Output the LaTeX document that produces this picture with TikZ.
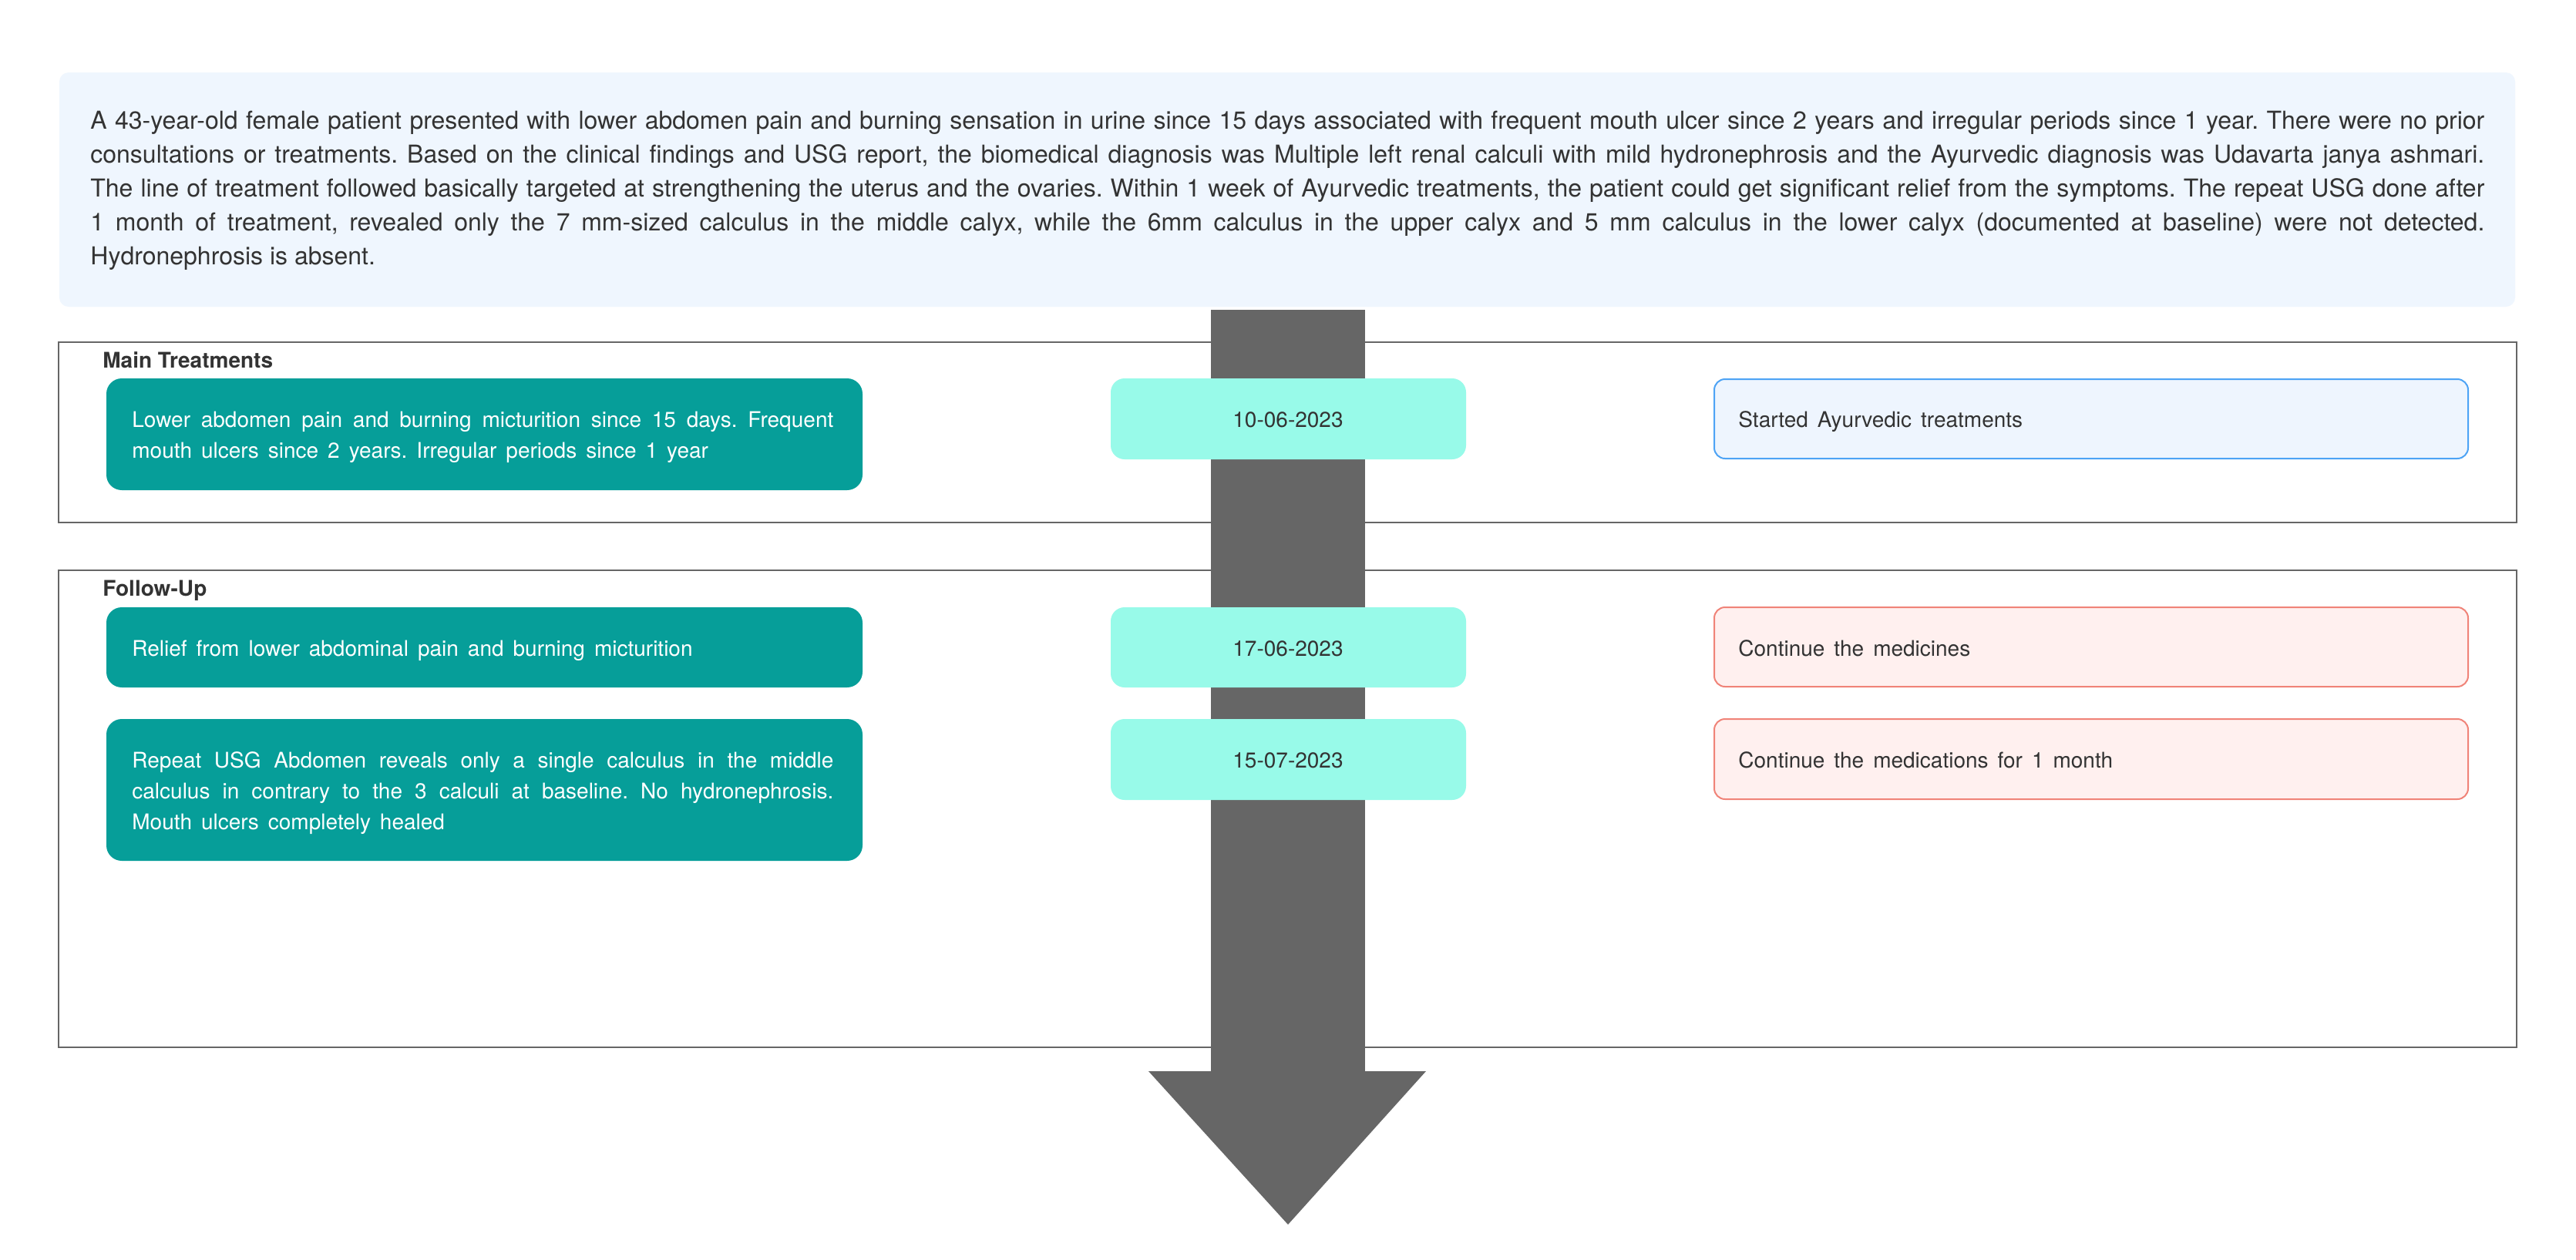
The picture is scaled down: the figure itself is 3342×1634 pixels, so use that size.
\documentclass[tikz,border=0pt]{standalone}
\usepackage{fontspec}
\setmainfont{TeX Gyre Heros}
\definecolor{parafill}{HTML}{EFF6FE}
\definecolor{txt}{HTML}{333333}
\definecolor{teal}{HTML}{069E99}
\definecolor{datefill}{HTML}{98FAE9}
\definecolor{shaftgray}{HTML}{666666}
\definecolor{blueline}{HTML}{4DA3F5}
\definecolor{bluefill}{HTML}{EEF5FE}
\definecolor{redline}{HTML}{F08378}
\definecolor{redfill}{HTML}{FFF0EF}
\tikzset{
  paratext/.style={inner sep=0pt, anchor=base west, text=txt, font=\fontsize{16}{22}\selectfont},
  smalltext/.style={inner sep=0pt, anchor=base west, font=\fontsize{14}{20}\selectfont},
  titletext/.style={inner sep=0pt, anchor=base west, text=txt, font=\bfseries\fontsize{14}{16}\selectfont},
  datetext/.style={inner sep=0pt, anchor=base, text=txt, font=\fontsize{14}{20}\selectfont},
  framebox/.style={draw=shaftgray, line width=1.2pt},
  tealbox/.style={fill=teal, rounded corners=10pt},
  datebox/.style={fill=datefill, rounded corners=9pt},
  bluebox/.style={draw=blueline, fill=bluefill, line width=1pt, rounded corners=7pt},
  redbox/.style={draw=redline, fill=redfill, line width=1pt, rounded corners=7pt},
}
\newcommand{\wsp}{\spaceskip=6pt plus 2pt minus 1pt\relax}
\frenchspacing
\begin{document}
\begin{tikzpicture}[x=0.5pt,y=-0.5pt]
\useasboundingbox[fill=white] (0,0) rectangle (3342,1634);
% summary paragraph
\path[fill=parafill, rounded corners=6pt] (77,94) rectangle (3263,398);
\node[paratext] (para) at (117,167) {\vtop{\baselineskip=22pt
\hbox to 1553pt{A 43-year-old female patient presented with lower abdomen pain and burning sensation in urine since 15 days associated with frequent mouth ulcer since 2 years and irregular periods since 1 year. There were no prior}
\hbox to 1553pt{consultations or treatments. Based on the clinical findings and USG report, the biomedical diagnosis was Multiple left renal calculi with mild hydronephrosis and the Ayurvedic diagnosis was Udavarta janya ashmari.}
\hbox to 1553pt{The line of treatment followed basically targeted at strengthening the uterus and the ovaries. Within 1 week of Ayurvedic treatments, the patient could get significant relief from the symptoms. The repeat USG done after}
\hbox to 1553pt{1 month of treatment, revealed only the 7 mm-sized calculus in the middle calyx, while the 6mm calculus in the upper calyx and 5 mm calculus in the lower calyx (documented at baseline) were not detected.}
\hbox{Hydronephrosis is absent.}}};
% section frames
\draw[framebox] (76,444) rectangle (3265,678);
\draw[framebox] (76,740) rectangle (3265,1359);
\node[titletext] (maintitle) at (133,477) {Main Treatments};
\node[titletext] (followtitle) at (133,773) {Follow-Up};
% timeline arrow
\fill[shaftgray] (1571,402) rectangle (1771,1391);
\fill[shaftgray] (1490,1390) -- (1850,1390) -- (1671,1589) -- cycle;
% left (teal) boxes
\path[tealbox] (138,491) rectangle (1119,636);
\node[smalltext, text=white] (t1) at (171,554.5) {\vtop{\baselineskip=20pt\wsp
\hbox to 455pt{Lower abdomen pain and burning micturition since 15 days. Frequent}
\hbox{mouth ulcers since 2 years. Irregular periods since 1 year}}};
\path[tealbox] (138,788) rectangle (1119,892);
\node[smalltext, text=white] (t2) at (171,851) {\wsp Relief from lower abdominal pain and burning micturition};
\path[tealbox] (138,933) rectangle (1119,1117);
\node[smalltext, text=white] (t3) at (171,996) {\vtop{\baselineskip=20pt\wsp
\hbox to 455pt{Repeat USG Abdomen reveals only a single calculus in the middle}
\hbox to 455pt{calculus in contrary to the 3 calculi at baseline. No hydronephrosis.}
\hbox{Mouth ulcers completely healed}}};
% date boxes
\path[datebox] (1441,491) rectangle (1902,596);
\node[datetext] (d1) at (1671,554.5) {10-06-2023};
\path[datebox] (1441,788) rectangle (1902,892);
\node[datetext] (d2) at (1671,851) {17-06-2023};
\path[datebox] (1441,933) rectangle (1902,1038);
\node[datetext] (d3) at (1671,996) {15-07-2023};
% right boxes
\path[bluebox] (2224,492) rectangle (3202,595);
\node[smalltext, text=txt] (r1) at (2255,554.5) {\wsp Started Ayurvedic treatments};
\path[redbox] (2224,788) rectangle (3202,891);
\node[smalltext, text=txt] (r2) at (2255,851) {\wsp Continue the medicines};
\path[redbox] (2224,933) rectangle (3202,1037);
\node[smalltext, text=txt] (r3) at (2255,996) {\wsp Continue the medications for 1 month};
\end{tikzpicture}
\end{document}
